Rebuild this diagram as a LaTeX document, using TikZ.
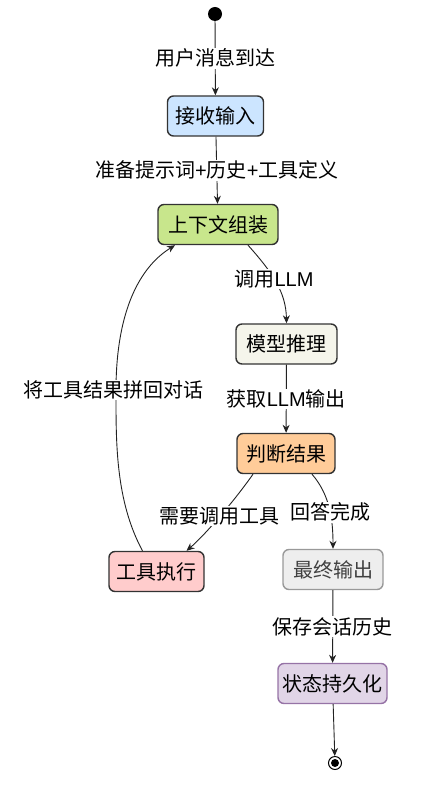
\documentclass[tikz,border=0pt]{standalone}
\usepackage{fontspec}
\setmainfont{Noto Sans CJK SC}
\newfontfamily\latf{Liberation Sans}
\usetikzlibrary{arrows.meta,calc}
\definecolor{edgec}{HTML}{222222}
\definecolor{bordc}{HTML}{333333}
\definecolor{cblue}{HTML}{CCE5FF}
\definecolor{cgreen}{HTML}{C8E68C}
\definecolor{cbeige}{HTML}{F5F5EB}
\definecolor{corange}{HTML}{FFCC99}
\definecolor{cpink}{HTML}{FFCCCC}
\definecolor{cgray}{HTML}{EEEEEE}
\definecolor{cgrayb}{HTML}{999999}
\definecolor{cpurple}{HTML}{E1D5E7}
\definecolor{cpurpleb}{HTML}{9673A6}
\tikzset{
  statebox/.style={draw=bordc, line width=1.4pt, rounded corners=6pt, minimum height=40pt, inner sep=2pt, font=\fontsize{20}{23}\selectfont, text=black},
  lbl/.style={fill=white, inner sep=1pt, font=\fontsize{20}{23}\selectfont},
  conn/.style={draw=edgec, line width=0.9pt, -{Stealth[length=8pt,width=7pt]}},
}
\begin{document}
\begin{tikzpicture}[x=1pt,y=-1pt]
\useasboundingbox (0,0) rectangle (442,786);
\node[circle, fill=black, minimum size=14pt, inner sep=0pt] (start) at (215,14) {};
\node[statebox, fill=cblue, minimum width=96pt] (recv) at (215.5,116) {接收输入};
\node[statebox, fill=cgreen, minimum width=120pt] (ctx) at (218,224.5) {上下文组装};
\node[statebox, fill=cbeige, minimum width=101pt] (model) at (286.5,344) {模型推理};
\node[statebox, fill=corange, minimum width=98pt] (judge) at (286,453.5) {判断结果};
\node[statebox, fill=cpink, minimum width=95pt] (tool) at (156.5,571.5) {工具执行};
\node[statebox, fill=cgray, draw=cgrayb, text=black!75, minimum width=100pt] (final) at (333,569.5) {最终输出};
\node[statebox, fill=cpurple, draw=cpurpleb, minimum width=109pt] (persist) at (332.5,683.5) {状态持久化};
\node[circle, draw=black, line width=1pt, minimum size=13pt, inner sep=0pt] (endo) at (335,763) {};
\node[circle, fill=black, minimum size=8pt, inner sep=0pt] (endi) at (335,763) {};

\draw[conn] (start) -- node[lbl] {用户消息到达} (recv);
\draw[conn] (recv) -- node[lbl] {准备提示词{\latf+}历史{\latf+}工具定义} (ctx);
\draw[conn] ($(ctx.south)+(30,0)$) .. controls (272,272) and (286,292) .. node[lbl, pos=0.45] {调用{\latf LLM}} (model.north);
\draw[conn] (model) -- node[lbl] {获取{\latf LLM}输出} (judge);
\draw[conn] ($(judge.south)+(-33,0)$) .. controls (235,500) and (205,535) .. node[lbl, pos=0.5] {需要调用工具} ($(tool.north)+(30,0)$);
\draw[conn] ($(judge.south)+(26,0)$) .. controls (330,495) and (333,520) .. node[lbl, pos=0.55] {回答完成} (final.north);
\draw[conn] (final) -- node[lbl] {保存会话历史} (persist);
\draw[conn] (persist) -- (endo);
\draw[conn] ($(tool.north)+(-14,0)$) .. controls (115,500) and (116,440) .. (116,390)
  .. controls (116,320) and (135,270) .. ($(ctx.south)+(-43,0)$);
\node[lbl] (looplbl) at (113,390) {将工具结果拼回对话};
\end{tikzpicture}
\end{document}
